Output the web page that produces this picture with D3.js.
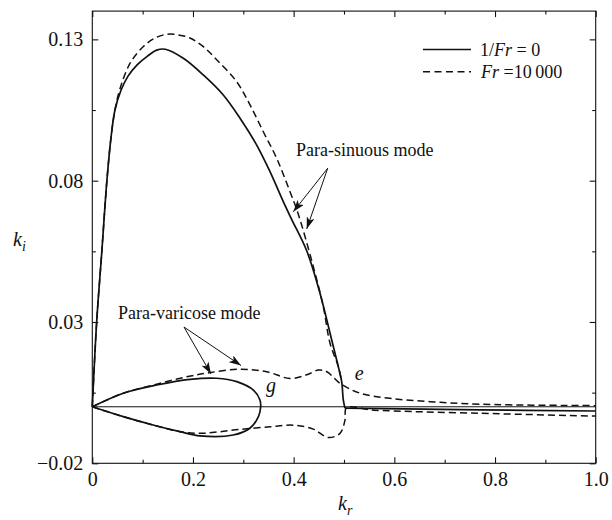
<!DOCTYPE html>
<html><head><meta charset="utf-8">
<script src="https://cdn.jsdelivr.net/npm/d3@7"></script>
<style>body{margin:0;background:#fff}svg{display:block}text{font-family:"Liberation Serif","Times New Roman",serif;fill:#111}</style>
</head><body>
<svg id="c" width="612" height="520"></svg>
<script>
// ---- data (k_r, k_i) ----
const sinuousSolid = [[0,0],[0.0087,0.0301],[0.0187,0.0544],[0.029,0.08],[0.037,0.095],[0.045,0.105],[0.057,0.112],[0.071,0.117],[0.089,0.121],[0.109,0.124],[0.128,0.1262],[0.145,0.1265],[0.1808,0.1233],[0.2205,0.1174],[0.2602,0.1103],[0.2934,0.1021],[0.3266,0.0926],[0.353,0.0832],[0.3794,0.0726],[0.3955,0.0665],[0.4259,0.0552],[0.4523,0.0402],[0.4756,0.0236],[0.4887,0.0142],[0.4954,0.0089],[0.4986,0.0024],[0.502,-0.0005]];
const solidTail = [[0.502,-0.0005],[0.77,-0.0011],[1.0,-0.0015]];
const sinuousDashed = [[0,0],[0.0087,0.0301],[0.0187,0.0544],[0.029,0.08],[0.037,0.095],[0.045,0.105],[0.055,0.1125],[0.0749,0.1215],[0.101,0.1274],[0.125,0.1305],[0.148,0.1318],[0.17,0.1316],[0.194,0.1305],[0.22,0.1275],[0.2471,0.1228],[0.2868,0.115],[0.3133,0.1068],[0.3397,0.0973],[0.3663,0.0879],[0.3927,0.0761],[0.4086,0.0685],[0.439,0.0496],[0.4589,0.0354],[0.4722,0.0225],[0.4887,0.0142],[0.4954,0.0089]];
const varicoseSolid = [[0,0],[0.0616,0.0048],[0.128,0.0077],[0.194,0.0097],[0.247,0.0101],[0.287,0.0089],[0.32,0.0059],[0.333,0.0024],[0.3345,0.0],[0.33,-0.0035],[0.313,-0.0076],[0.28,-0.01],[0.214,-0.0103],[0.174,-0.0088],[0.128,-0.0068],[0.0616,-0.0035],[0,0]];
const varicoseDashedUpper = [[0,0],[0.0616,0.0048],[0.128,0.0080],[0.19,0.0107],[0.234,0.0121],[0.293,0.0133],[0.346,0.0124],[0.393,0.01],[0.426,0.0113],[0.449,0.013],[0.466,0.0124],[0.492,0.0083],[0.532,0.0048],[0.591,0.003],[0.671,0.0018],[0.77,0.0009],[1.0,0.0004]];
const varicoseDashedLower = [[0,0],[0.0616,-0.0035],[0.128,-0.0068],[0.174,-0.0088],[0.214,-0.0094],[0.25,-0.0089],[0.293,-0.008],[0.353,-0.0071],[0.399,-0.0065],[0.439,-0.0079],[0.469,-0.0109],[0.492,-0.0094],[0.502,-0.0047],[0.505,-0.0004],[0.56,-0.0012],[0.77,-0.0023],[1.0,-0.0033]];
const neutralLine = [[0,0],[1.0,0]];
const xMajorTicks = [0,0.2,0.4,0.6,0.8,1.0];
const xMajorLabels = ["0","0.2","0.4","0.6","0.8","1.0"];
const xMinorTicks = [0.1,0.3,0.5,0.7,0.9];
const yMajorTicks = [-0.02,0.03,0.08,0.13];
const yMajorLabels = ["\u22120.02","0.03","0.08","0.13"];
const yMinorTicks = [0.005,0.055,0.105];

// ---- layout ----
const L = 92.3, R = 595.7, T = 11.1, B = 463.3;
const svg = d3.select("#c");
const x = d3.scaleLinear().domain([0,1]).range([L,R]);
const y = d3.scaleLinear().domain([-0.02,0.14]).range([B,T]);

const line = d3.line().x(d=>x(d[0])).y(d=>y(d[1])).curve(d3.curveCatmullRom.alpha(0.5));
const g = svg.append("g");

function draw(data, dashed, w){
  g.append("path").attr("d", line(data)).attr("fill","none").attr("stroke","#111")
   .attr("stroke-width", w).attr("stroke-dasharray", dashed ? "7,4" : null)
   .attr("stroke-linejoin","round");
}
draw(neutralLine, false, 1);
draw(varicoseSolid, false, 1.7);
draw(sinuousSolid, false, 1.7);
draw(solidTail, false, 1.7);
draw(sinuousDashed, true, 1.5);
draw(varicoseDashedUpper, true, 1.5);
draw(varicoseDashedLower, true, 1.5);

// frame
svg.append("rect").attr("x",L).attr("y",T).attr("width",R-L).attr("height",B-T)
  .attr("fill","none").attr("stroke","#111").attr("stroke-width",1.1);

// axes (ticks inward)
function styleAxis(sel){ sel.select(".domain").remove(); sel.selectAll("line").attr("stroke","#111").attr("stroke-width",1.1); sel.selectAll("text").attr("font-size",20).attr("font-family","Liberation Serif, serif").attr("fill","#111"); }
svg.append("g").attr("transform",`translate(0,${B})`)
  .call(d3.axisBottom(x).tickValues(xMajorTicks).tickFormat((d,i)=>xMajorLabels[i]).tickSizeInner(-6).tickSizeOuter(0).tickPadding(9)).call(styleAxis);
svg.append("g").attr("transform",`translate(0,${B})`)
  .call(d3.axisBottom(x).tickValues(xMinorTicks).tickFormat("").tickSizeInner(-3.5).tickSizeOuter(0)).call(styleAxis);
svg.append("g").attr("transform",`translate(0,${T})`)
  .call(d3.axisTop(x).tickValues(xMajorTicks).tickFormat("").tickSizeInner(-6).tickSizeOuter(0)).call(styleAxis);
svg.append("g").attr("transform",`translate(0,${T})`)
  .call(d3.axisTop(x).tickValues(xMinorTicks).tickFormat("").tickSizeInner(-3.5).tickSizeOuter(0)).call(styleAxis);
svg.append("g").attr("transform",`translate(${L},0)`)
  .call(d3.axisLeft(y).tickValues(yMajorTicks).tickFormat((d,i)=>yMajorLabels[i]).tickSizeInner(-6).tickSizeOuter(0).tickPadding(9)).call(styleAxis);
svg.append("g").attr("transform",`translate(${L},0)`)
  .call(d3.axisLeft(y).tickValues(yMinorTicks).tickFormat("").tickSizeInner(-3.5).tickSizeOuter(0)).call(styleAxis);
svg.append("g").attr("transform",`translate(${R},0)`)
  .call(d3.axisRight(y).tickValues(yMajorTicks).tickFormat("").tickSizeInner(-6).tickSizeOuter(0)).call(styleAxis);
svg.append("g").attr("transform",`translate(${R},0)`)
  .call(d3.axisRight(y).tickValues(yMinorTicks).tickFormat("").tickSizeInner(-3.5).tickSizeOuter(0)).call(styleAxis);

// axis titles
const ki = svg.append("text").attr("x",13).attr("y",246).attr("font-size",20);
ki.append("tspan").attr("font-style","italic").text("k");
ki.append("tspan").attr("font-style","italic").attr("font-size",14).attr("dy",5).text("i");
const kr = svg.append("text").attr("x",338).attr("y",510).attr("font-size",20);
kr.append("tspan").attr("font-style","italic").text("k");
kr.append("tspan").attr("font-style","italic").attr("font-size",14).attr("dy",5).text("r");

// legend
svg.append("line").attr("x1",423).attr("x2",471).attr("y1",49.5).attr("y2",49.5).attr("stroke","#111").attr("stroke-width",1.7);
svg.append("line").attr("x1",423).attr("x2",471).attr("y1",71.7).attr("y2",71.7).attr("stroke","#111").attr("stroke-width",1.5).attr("stroke-dasharray","7,4.5");
const l1 = svg.append("text").attr("x",480).attr("y",55.5).attr("font-size",18);
l1.append("tspan").text("1/");
l1.append("tspan").attr("font-style","italic").text("Fr");
l1.append("tspan").text(" = 0");
const l2 = svg.append("text").attr("x",481).attr("y",78).attr("font-size",18);
l2.append("tspan").attr("font-style","italic").text("Fr");
l2.append("tspan").text(" =10\u2009000");

// annotations
const defs = svg.append("defs");
defs.append("marker").attr("id","ah").attr("viewBox","0 0 12 8").attr("refX",12).attr("refY",4)
  .attr("markerWidth",12).attr("markerHeight",8).attr("markerUnits","userSpaceOnUse").attr("orient","auto")
  .append("path").attr("d","M0,0 L12,4 L0,8 L3,4 Z").attr("fill","#111");
function arrow(from,to){
  svg.append("line").attr("x1",x(from[0])).attr("y1",y(from[1])).attr("x2",x(to[0])).attr("y2",y(to[1]))
    .attr("stroke","#111").attr("stroke-width",1).attr("marker-end","url(#ah)");
}
arrow([0.4676,0.0844],[0.3993,0.0690]);
arrow([0.4676,0.0844],[0.4259,0.0629]);
arrow([0.1822,0.0282],[0.2358,0.0116]);
arrow([0.1822,0.0282],[0.2954,0.0146]);
svg.append("text").attr("x",x(0.4047)).attr("y",y(0.0887)).attr("font-size",18).text("Para-sinuous mode");
svg.append("text").attr("x",x(0.0513)).attr("y",y(0.0311)).attr("font-size",18).text("Para-varicose mode");
svg.append("text").attr("x",x(0.345)).attr("y",y(0.0052)).attr("font-size",20).attr("font-style","italic").attr("fill","#333").text("g");
svg.append("text").attr("x",x(0.5216)).attr("y",y(0.0095)).attr("font-size",20).attr("font-style","italic").attr("fill","#333").text("e");
</script>
</body></html>
